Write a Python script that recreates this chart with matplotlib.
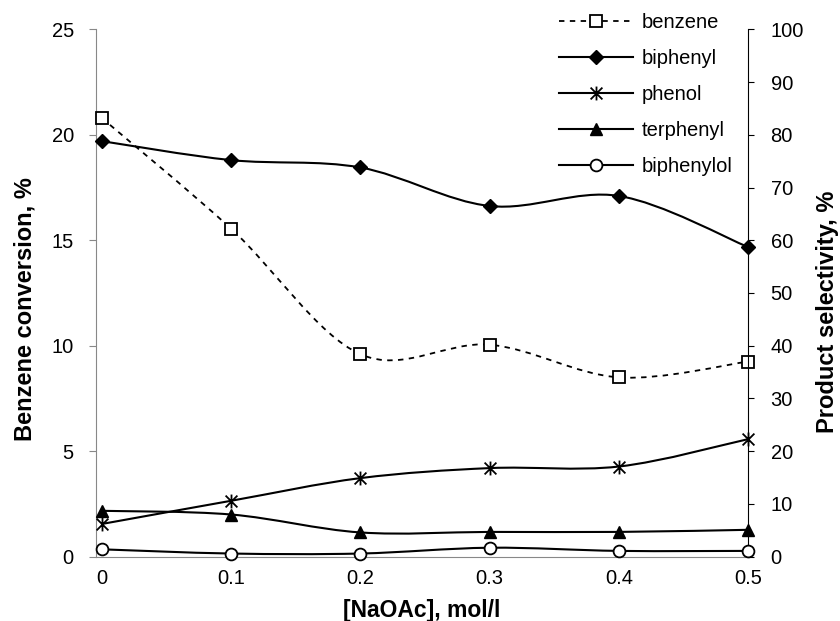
import matplotlib
matplotlib.use("Agg")
import matplotlib.pyplot as plt
from matplotlib.path import Path
from matplotlib.patches import PathPatch
from matplotlib.lines import Line2D
import numpy as np

plt.rcParams['font.family'] = ['Liberation Sans', 'DejaVu Sans']

naoac = [0.0, 0.1, 0.2, 0.3, 0.4, 0.5]
benzene = [20.8, 15.55, 9.6, 10.05, 8.5, 9.25]
biphenyl = [78.8, 75.2, 73.8, 66.5, 68.4, 58.7]
phenol = [6.2, 10.6, 14.9, 16.8, 17.1, 22.3]
terphenyl = [8.7, 8.0, 4.6, 4.7, 4.7, 5.1]
biphenylol = [1.4, 0.6, 0.6, 1.7, 1.1, 1.1]

left_ticks = [0, 5, 10, 15, 20, 25]
right_ticks = [0, 10, 20, 30, 40, 50, 60, 70, 80, 90, 100]
x_ticks = [0, 0.1, 0.2, 0.3, 0.4, 0.5]
x_ticklabels = ['0', '0.1', '0.2', '0.3', '0.4', '0.5']


def smooth_path(xs, ys):
    # Excel-style smoothed line: cubic Bezier segments through the data points
    p = np.column_stack([xs, ys]).astype(float)
    n = len(p)
    verts = [tuple(p[0])]
    codes = [Path.MOVETO]
    for i in range(n - 1):
        p0 = p[i - 1] if i > 0 else p[i]
        p1 = p[i]
        p2 = p[i + 1]
        p3 = p[i + 2] if i + 2 < n else p[i + 1]
        c1 = p1 + (p2 - p0) / 6.0
        c2 = p2 - (p3 - p1) / 6.0
        verts += [tuple(c1), tuple(c2), tuple(p2)]
        codes += [Path.CURVE4] * 3
    return Path(verts, codes)


# Excel-style "star" marker: an X with a vertical stroke
star = Path([(0, -1), (0, 1), (-0.85, -0.85), (0.85, 0.85), (-0.85, 0.85), (0.85, -0.85)],
            [Path.MOVETO, Path.LINETO, Path.MOVETO, Path.LINETO, Path.MOVETO, Path.LINETO])

fig = plt.figure(figsize=(8.4, 6.21), dpi=100)
ax = fig.add_axes([96 / 840, 1 - 556.7 / 621, (748.3 - 96) / 840, (556.7 - 29.3) / 621])
ax2 = ax.twinx()

gray = '#888888'
lw = 1.5
tick_fs = 14.5

# left axis: benzene conversion
ax.add_patch(PathPatch(smooth_path(naoac, benzene), fill=False, edgecolor='black',
                       lw=1.3, linestyle=(0, (3, 3)), clip_on=False))
ax.plot(naoac, benzene, linestyle='none', marker='s', ms=8, mfc='white', mec='black',
        mew=1.3, clip_on=False, zorder=5)

# right axis: selectivities
series = [
    (biphenyl, dict(marker='D', ms=7.5, mfc='black', mec='black')),
    (phenol, dict(marker=star, ms=10, mfc='black', mec='black', mew=1.3)),
    (terphenyl, dict(marker='^', ms=8.5, mfc='black', mec='black')),
    (biphenylol, dict(marker='o', ms=8.5, mfc='white', mec='black', mew=1.3)),
]
for ys, mk in series:
    ax2.add_patch(PathPatch(smooth_path(naoac, ys), fill=False, edgecolor='black',
                            lw=lw, clip_on=False))
    ax2.plot(naoac, ys, linestyle='none', clip_on=False, zorder=5, **mk)

ax.set_xlim(-0.0044, 0.5)
ax.set_ylim(0, 25)
ax2.set_ylim(0, 100)

ax.set_xticks(x_ticks)
ax.set_xticklabels(x_ticklabels)
ax.set_yticks(left_ticks)
ax2.set_yticks(right_ticks)

for a in (ax, ax2):
    a.spines['top'].set_visible(False)
    a.spines['left'].set_color(gray)
    a.spines['bottom'].set_color(gray)
    a.spines['right'].set_color('black')
ax.spines['right'].set_visible(False)
ax2.spines['left'].set_visible(False)
ax2.spines['bottom'].set_visible(False)

ax.tick_params(axis='x', length=0, pad=9, labelsize=tick_fs)
ax.tick_params(axis='y', length=5, color=gray, labelsize=tick_fs, pad=11)
ax2.tick_params(axis='y', length=4, color='black', labelsize=tick_fs, pad=12)

ax.set_xlabel('[NaOAc], mol/l', fontsize=16.5, fontweight='bold', labelpad=8)
ax.set_ylabel('Benzene conversion, %', fontsize=17, fontweight='bold', labelpad=11)
ax2.set_ylabel('Product selectivity, %', fontsize=17, fontweight='bold', labelpad=9)
ax.yaxis.label.set_y(0.47)
ax2.yaxis.label.set_y(0.464)

handles = [
    Line2D([], [], color='black', lw=1.3, linestyle=(0, (3, 3)), marker='s', ms=8,
           mfc='white', mec='black', mew=1.3),
    Line2D([], [], color='black', lw=lw, marker='D', ms=7.5, mfc='black', mec='black'),
    Line2D([], [], color='black', lw=lw, marker=star, ms=10, mfc='black', mec='black', mew=1.3),
    Line2D([], [], color='black', lw=lw, marker='^', ms=8.5, mfc='black', mec='black'),
    Line2D([], [], color='black', lw=lw, marker='o', ms=8.5, mfc='white', mec='black', mew=1.3),
]
labels = ['benzene', 'biphenyl', 'phenol', 'terphenyl', 'biphenylol']
fig.legend(handles, labels, loc='upper left', bbox_to_anchor=(559 / 840, 1 - 13 / 621),
           frameon=False, fontsize=tick_fs, handlelength=3.68, handletextpad=0.42,
           labelspacing=0.84, borderpad=0, borderaxespad=0)

fig.savefig('out.png', dpi=100)
